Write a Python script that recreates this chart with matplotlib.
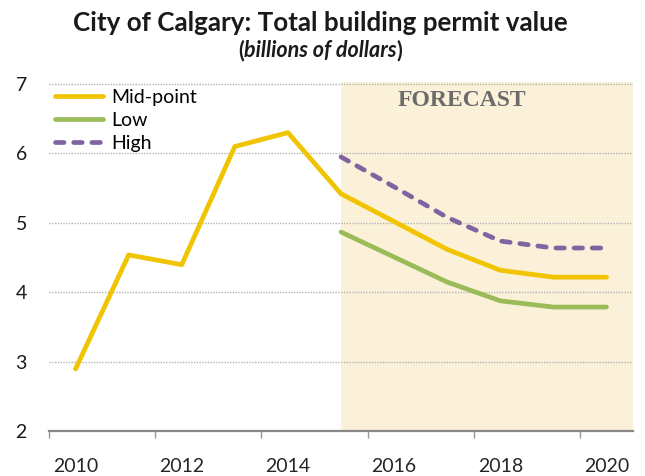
import matplotlib
matplotlib.use('Agg')
import matplotlib.pyplot as plt

plt.rcParams['font.family'] = ['Lato', 'DejaVu Sans']

# data (billions of dollars)
years = list(range(2010, 2021))
midpoint = [2.9, 4.54, 4.4, 6.1, 6.3, 5.42, 5.02, 4.62, 4.32, 4.22, 4.22]
forecastYears = list(range(2015, 2021))
low = [4.87, 4.51, 4.15, 3.88, 3.79, 3.79]
high = [5.95, 5.52, 5.08, 4.74, 4.64, 4.64]
yTicks = [2, 3, 4, 5, 6, 7]
xLabelYears = [2010, 2012, 2014, 2016, 2018, 2020]

gold = '#f0c400'
green = '#9bbb59'
purple = '#8064a2'
grey = '#888888'

fig = plt.figure(figsize=(6.45, 4.76), dpi=100)
ax = fig.add_axes([0.076, 0.0935, 0.9054, 0.7345])

# forecast band
ax.axvspan(2015, 2020.5, color='#fbf1d9', lw=0, zorder=0)
for y in yTicks[1:]:
    ax.axhline(y, color='#b5b5b5', lw=1, linestyle=(0, (1, 1)), zorder=1)

ax.plot(years, midpoint, color=gold, lw=3.4, label='Mid-point',
        solid_capstyle='round', solid_joinstyle='round', zorder=3)
ax.plot(forecastYears, low, color=green, lw=3.4, label='Low',
        solid_capstyle='round', solid_joinstyle='round', zorder=3)
ax.plot(forecastYears, high, color=purple, lw=3.4, label='High',
        linestyle=(0, (1.8, 2.05)), dash_capstyle='round', zorder=3)

ax.set_xlim(2009.5, 2020.5)
ax.set_ylim(2, 7.03)

for s in ['top', 'right', 'left']:
    ax.spines[s].set_visible(False)
ax.spines['bottom'].set_color(grey)
ax.spines['bottom'].set_linewidth(1.6)

ax.set_xticks([2009.5, 2011.5, 2013.5, 2015.5, 2017.5, 2019.5])
ax.set_xticklabels([])
ax.tick_params(axis='x', which='major', direction='out', length=5, width=1, color='#999999')
ax.set_xticks(xLabelYears, minor=True)
ax.set_xticklabels([str(y) for y in xLabelYears], minor=True)
ax.tick_params(axis='x', which='minor', length=0, pad=19, labelsize=14, labelcolor='#262626')

ax.set_yticks(yTicks)
ax.set_yticklabels([str(y) for y in yTicks])
ax.tick_params(axis='y', length=0, pad=16, labelsize=14, labelcolor='#1a1a1a')

ax.text(2017.27, 6.76, 'FORECAST', family='Liberation Serif', fontweight='bold',
        fontsize=17, color='#6b6b6b', ha='center', va='center')

ax.legend(loc='upper left', bbox_to_anchor=(55 / 645, 1 - 89 / 476),
          bbox_transform=fig.transFigure, frameon=False, fontsize=14,
          handlelength=2.45, handletextpad=0.42, labelspacing=0.3,
          borderpad=0, borderaxespad=0)

fig.text(0.496, 0.952, 'City of Calgary: Total building permit value',
         ha='center', va='center', fontsize=18.7, fontweight='bold', color='#1a1a1a')

# subtitle: bold parentheses around bold italic text
fig.canvas.draw()
r = fig.canvas.get_renderer()
subY = 0.893
parts = [('(', 'normal'), ('billions of dollars', 'italic'), (')', 'normal')]
texts = [fig.text(0, subY, p, fontsize=15.5, fontweight='bold', style=st,
                  color='#1a1a1a', va='center') for p, st in parts]
widths = [t.get_window_extent(r).width for t in texts]
x = 320 - sum(widths) / 2
for t, w in zip(texts, widths):
    t.set_x(x / 645)
    x += w

fig.savefig('out.png', dpi=100)
